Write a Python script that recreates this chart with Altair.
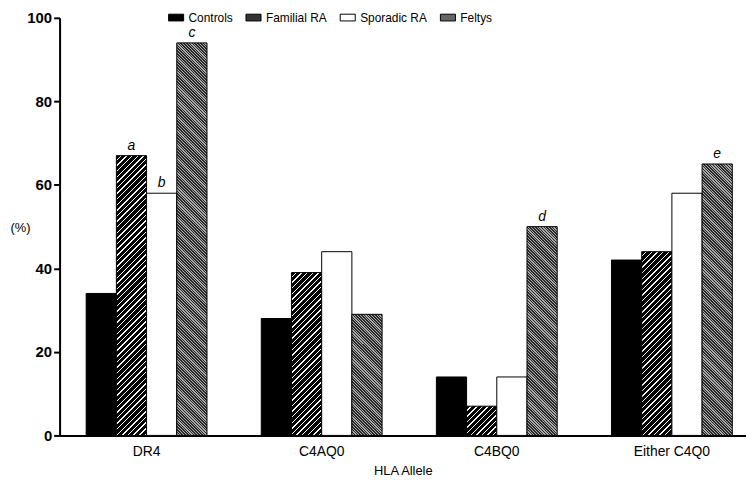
import altair as alt
import pandas as pd

alleles = ["DR4", "C4AQ0", "C4BQ0", "Either C4Q0"]
groups = ["Controls", "Familial RA", "Sporadic RA", "Feltys"]
controls = [34, 28, 14, 42]
familial = [67, 39, 7, 44]
sporadic = [58, 44, 14, 58]
feltys = [94, 29, 50, 65]
notes_familial = ["a", "", "", ""]
notes_sporadic = ["b", "", "", ""]
notes_feltys = ["c", "", "d", "e"]

rows = []
series = [(groups[0], controls, ["", "", "", ""]),
          (groups[1], familial, notes_familial),
          (groups[2], sporadic, notes_sporadic),
          (groups[3], feltys, notes_feltys)]
for g, vals, notes in series:
    for a, v, n in zip(alleles, vals, notes):
        rows.append({"allele": a, "group": g, "pct": v, "note": n})
df = pd.DataFrame(rows)

FONT = "Liberation Sans"
colors = ["#000000", "#333333", "#ffffff", "#666666"]

PLOT_W, PLOT_H = 692, 421
BAR_W = 30.45


def hatch(pct, direction, spacing, frac, base, line):
    """Diagonal hatch fill as a hard-stop linear gradient (bounding-box units)."""
    w = BAR_W
    h = max(pct / 100 * PLOT_H, 1)
    s = (w + h) / (w * w + h * h)
    period = spacing * 1.4142 / (w + h)
    n = int(1 / period) + 1
    stops = []
    for k in range(n):
        o0 = k * period
        o1 = o0 + (1 - frac) * period
        o2 = o0 + period
        for off, c in ((o0, base), (o1, base), (o1, line), (o2, line)):
            stops.append({"offset": round(min(off, 1), 5), "color": c})
        if o2 >= 1:
            break
    if direction == "/":
        x1, y1, x2, y2 = 0, 0, s * w, s * h
    else:
        x1, y1, x2, y2 = 0, 1, s * w, 1 - s * h
    return {"gradient": "linear", "x1": x1, "y1": y1, "x2": x2, "y2": y2, "stops": stops}


conds = []
for a, v in zip(alleles, familial):
    conds.append({"test": f"datum.group === 'Familial RA' && datum.allele === '{a}'",
                  "value": hatch(v, "/", 4.0, 0.25, "#000000", "#f4f4f4")})
for a, v in zip(alleles, feltys):
    conds.append({"test": f"datum.group === 'Feltys' && datum.allele === '{a}'",
                  "value": hatch(v, "\\", 2.0, 0.45, "#2a2a2a", "#a8a8a8")})

x = alt.X("allele:N", sort=alleles, title="HLA Allele",
          scale=alt.Scale(paddingInner=0.31, paddingOuter=0.115, align=0.66),
          axis=alt.Axis(labelAngle=0, ticks=False, domainColor="black", domainWidth=2,
                        labelFont=FONT, labelFontSize=14, labelColor="black", labelPadding=9,
                        titleFont=FONT, titleFontSize=13, titleFontWeight="normal",
                        titleColor="black", titlePadding=6))
xo = alt.XOffset("group:N", sort=groups, scale=alt.Scale(paddingInner=0, paddingOuter=0))

fill = {
    "field": "group", "type": "nominal", "sort": groups,
    "scale": {"domain": groups, "range": colors},
    "legend": {"title": None, "orient": "none", "direction": "horizontal",
               "legendX": 109, "legendY": -9,
               "symbolType": "M-1,-0.45H1V0.45H-1Z", "symbolSize": 230,
               "symbolStrokeColor": "black", "symbolStrokeWidth": 1, "symbolOpacity": 1,
               "labelFont": FONT, "labelFontSize": 12, "labelColor": "black",
               "columnPadding": 10, "labelOffset": 4},
    "condition": conds,
}

bars = alt.Chart(df).mark_bar(stroke="black", strokeWidth=1).encode(
    x=x, xOffset=xo,
    y=alt.Y("pct:Q", title="(%)", scale=alt.Scale(domain=[0, 100]),
            axis=alt.Axis(values=[0, 20, 40, 60, 80, 100], grid=False, domainColor="black",
                          domainWidth=2, tickColor="black", tickWidth=2, tickSize=6,
                          labelFont=FONT, labelFontSize=15, labelFontWeight="bold",
                          labelColor="black", labelPadding=2,
                          titleFont=FONT, titleFontSize=13, titleFontWeight="normal",
                          titleColor="black", titleAngle=0, titleX=-50, titleY=218,
                          titleAlign="left")),
    fill=fill,
)

text = alt.Chart(df).mark_text(dy=-10, fontStyle="italic", font=FONT, fontSize=14,
                               color="black").encode(
    x=alt.X("allele:N", sort=alleles), xOffset=xo, y="pct:Q", text="note:N")

chart = alt.layer(bars, text).properties(
    width=PLOT_W, height=PLOT_H,
    autosize=alt.AutoSizeParams(type="none"),
    padding={"left": 52, "top": 8, "right": 0, "bottom": 40},
).configure_view(stroke=None)

chart.save("out.html", embed_options={"renderer": "svg", "actions": False})
